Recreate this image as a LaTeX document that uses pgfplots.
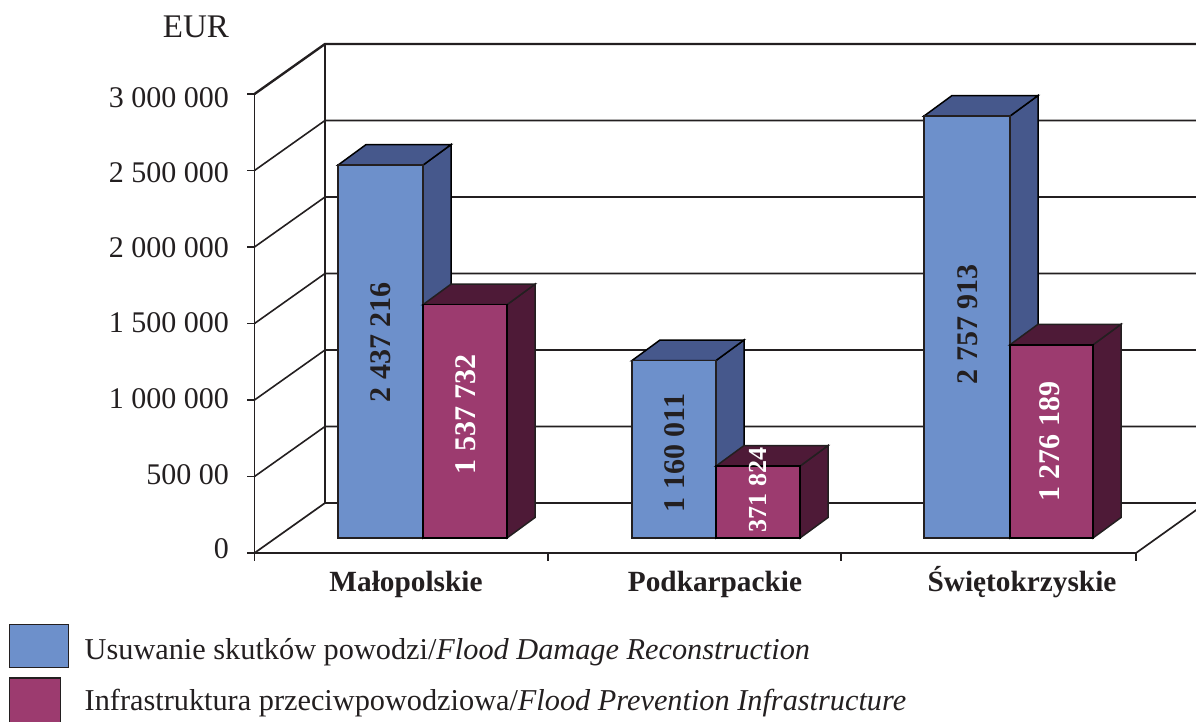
\documentclass[border=0pt]{standalone}
\usepackage{pgfplots}
\pgfplotsset{compat=1.18}
\usepackage{fontspec}
\setmainfont{Liberation Serif}
\definecolor{blueF}{HTML}{6D90CB}
\definecolor{blueD}{HTML}{46588C}
\definecolor{magF}{HTML}{9C3B6F}
\definecolor{magD}{HTML}{4E1A37}
\definecolor{ink}{HTML}{231F20}
\newcommand{\barface}[3]{\addplot[forget plot,no marks,fill=#1,draw=#2,line width=1.5pt] coordinates {#3} -- cycle;}
\newcommand{\rr}[2]{\raisebox{#1pt}{#2}}
\begin{document}
\begin{tikzpicture}[x=1pt,y=1pt]
\path[use as bounding box,clip] (0,0) rectangle (1196pt,721pt);
\begin{axis}[
  at={(254.5pt,168pt)},anchor=south west,
  scale only axis,width=881.5pt,height=459pt,
  xmin=0,xmax=881.5,ymin=0,ymax=3000000,
  clip=false,
  axis x line=bottom,axis y line=left,
  axis line style={-,draw=ink,line width=1.7pt},
  tick style={draw=ink,line width=1.4pt},
  major tick length=7.5pt,
  tick align=outside,
  scaled y ticks=false,
  ytick={0,500000,1000000,1500000,2000000,2500000,3000000},
  yticklabels={\rr{5}{0},\rr{2}{500~00},\rr{2}{1~000~000},\rr{1}{1~500~000},\rr{0}{2~000~000},\rr{-2}{2~500~000},\rr{-4}{3~000~000}},
  yticklabel style={font=\fontsize{30}{30}\selectfont,text=ink,anchor=base east,inner sep=0pt,xshift=-18pt,yshift=-10pt},
  xtick={0,293.5,586.5,881.5},
  xticklabels={},
  extra x ticks={151.5,460.5,767.5},
  extra x tick labels={Małopolskie,Podkarpackie,Świętokrzyskie},
  extra x tick style={tick style={draw=none},
    xticklabel style={font=\bfseries\fontsize{29.3}{29.3}\selectfont,text=ink,anchor=base,inner sep=0pt,yshift=-31pt}},
  legend style={at={(axis cs:-245.5,-464000)},anchor=north west,draw=none,fill=none,inner sep=0pt,outer sep=0pt,
    font=\fontsize{30.3}{30.3}\selectfont,text=ink,cells={anchor=west},row sep=9pt},
]
% back wall and left wall grid
\addplot[forget plot,no marks,draw=ink,line width=2.4pt] coordinates {(0,3000000)(70.5,3326797)(1000,3326797)};
\addplot[forget plot,no marks,draw=ink,line width=1.9pt] coordinates {(70.5,3326797)(70.5,326797)(1000,326797)};
\addplot[forget plot,no marks,draw=ink,line width=1.6pt] coordinates {(0,2500000)(70.5,2826797)(1000,2826797)};
\addplot[forget plot,no marks,draw=ink,line width=1.6pt] coordinates {(0,2000000)(70.5,2326797)(1000,2326797)};
\addplot[forget plot,no marks,draw=ink,line width=1.6pt] coordinates {(0,1500000)(70.5,1826797)(1000,1826797)};
\addplot[forget plot,no marks,draw=ink,line width=1.6pt] coordinates {(0,1000000)(70.5,1326797)(1000,1326797)};
\addplot[forget plot,no marks,draw=ink,line width=1.6pt] coordinates {(0,500000)(70.5,826797)(1000,826797)};
\addplot[forget plot,no marks,draw=ink,line width=1.7pt] coordinates {(0,0)(70.5,326797)};
\addplot[forget plot,no marks,draw=ink,line width=1.7pt] coordinates {(881.5,0)(951.5,326797)};
% Malopolskie
\barface{blueD}{black}{(168.5,98039)(196.5,232000)(196.5,2669216)(168.5,2535255)}
\barface{blueD}{black}{(83.5,2535255)(111.5,2669216)(196.5,2669216)(168.5,2535255)}
\barface{blueF}{ink}{(83.5,98039)(83.5,2535255)(168.5,2535255)(168.5,98039)}
\barface{magD}{ink}{(252.5,98039)(280.5,232000)(280.5,1757000)(252.5,1623000)}
\barface{magD}{ink}{(168.5,1623000)(196.5,1757000)(280.5,1757000)(252.5,1623000)}
\barface{magF}{black}{(168.5,98039)(168.5,1623000)(252.5,1623000)(252.5,98039)}
% Podkarpackie
\barface{blueD}{black}{(461.5,98039)(489.5,232000)(489.5,1392011)(461.5,1258050)}
\barface{blueD}{black}{(377.5,1258050)(405.5,1392011)(489.5,1392011)(461.5,1258050)}
\barface{blueF}{ink}{(377.5,98039)(377.5,1258050)(461.5,1258050)(461.5,98039)}
\barface{magD}{ink}{(545.5,98039)(573.5,232000)(573.5,702000)(545.5,568039)}
\barface{magD}{ink}{(461.5,568039)(489.5,702000)(573.5,702000)(545.5,568039)}
\barface{magF}{black}{(461.5,98039)(461.5,568039)(545.5,568039)(545.5,98039)}
% Swietokrzyskie
\barface{blueD}{black}{(755.5,98039)(783.5,232000)(783.5,2989913)(755.5,2855952)}
\barface{blueD}{black}{(669.5,2855952)(697.5,2989913)(783.5,2989913)(755.5,2855952)}
\barface{blueF}{ink}{(669.5,98039)(669.5,2855952)(755.5,2855952)(755.5,98039)}
\barface{magD}{ink}{(838.5,98039)(866.5,232000)(866.5,1495000)(838.5,1361000)}
\barface{magD}{ink}{(755.5,1361000)(783.5,1495000)(866.5,1495000)(838.5,1361000)}
\barface{magF}{black}{(755.5,98039)(755.5,1361000)(838.5,1361000)(838.5,98039)}
% legend
\addlegendimage{legend image code/.code={\draw[fill=blueF,draw=ink,line width=1.4pt] (0pt,-18pt) rectangle (59pt,25pt);\path[draw=none] (0pt,0pt) -- (73pt,0pt);}}
\addlegendentry{Usuwanie skutków powodzi/\textit{Flood Damage Reconstruction}}
\addlegendimage{legend image code/.code={\draw[fill=magF,draw=ink,line width=1.4pt] (0pt,-40pt) rectangle (51pt,22pt);\path[draw=none] (0pt,0pt) -- (73pt,0pt);}}
\addlegendentry{Infrastruktura przeciwpowodziowa/\textit{Flood Prevention Infrastructure}}
% texts
\node[font=\fontsize{33}{33}\selectfont,text=ink,inner sep=0pt] at (axis cs:-58.5,3438000) {EUR};
\begin{scope}[every node/.style={rotate=90,inner sep=0pt,font=\bfseries\fontsize{30}{30}\selectfont}]
\node[text=ink] at (axis cs:126.5,1379000) {2 437 216};
\node[text=white] at (axis cs:211.5,908000) {1 537 732};
\node[text=ink] at (axis cs:420.5,653600) {1 160 011};
\node[text=white,font=\bfseries\fontsize{26}{26}\selectfont] at (axis cs:503.5,411800) {371 824};
\node[text=ink] at (axis cs:713.5,1496700) {2 757 913};
\node[text=white] at (axis cs:795.5,727000) {1 276 189};
\end{scope}
\end{axis}
\end{tikzpicture}
\end{document}
